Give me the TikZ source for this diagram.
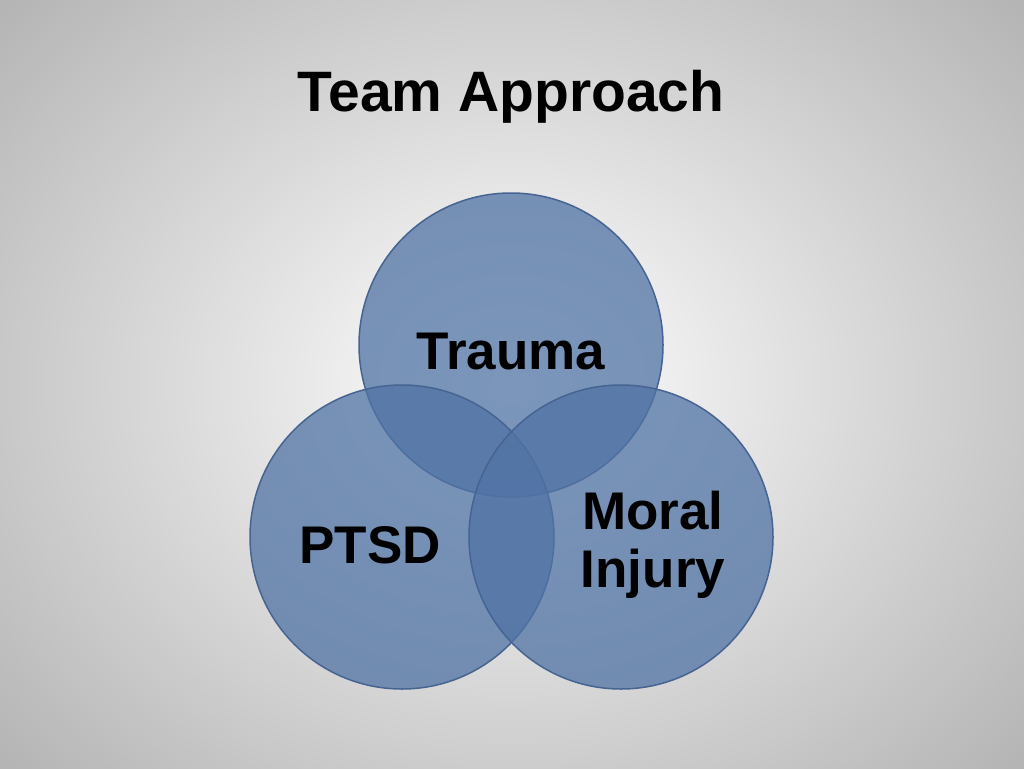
\documentclass[tikz,border=0pt]{standalone}
\usepackage{fontspec}
\setmainfont{Liberation Sans}
\begin{document}
\begin{tikzpicture}[x=1pt,y=-1pt,
  venn/.style={circle,minimum size=304pt,inner sep=0pt,fill={rgb,255:red,80;green,115;blue,165},fill opacity=0.75,draw={rgb,255:red,70;green,100;blue,145},line width=1.5pt},
  lbl/.style={font=\bfseries\fontsize{53}{58}\selectfont,text=black,align=center}]
\useasboundingbox (0,0) rectangle (1024,768);
\shade[inner color=white,outer color={rgb,255:red,178;green,178;blue,178},shading=radial] (-200,-200) rectangle (1224,968);
\node[venn] (tr) at (511,345) {};
\node[venn] (pt) at (402,537) {};
\node[venn] (mi) at (621,537) {};
\node[lbl,font=\bfseries\fontsize{57}{60}\selectfont] (title) at (511,97) {Team Approach};
\node[lbl] (ttr) at (511,352) {Trauma};
\node[lbl] (tpt) at (370,545) {PTSD};
\node[lbl] (tmi) at (653,545) {Moral\\Injury};
\end{tikzpicture}
\end{document}
